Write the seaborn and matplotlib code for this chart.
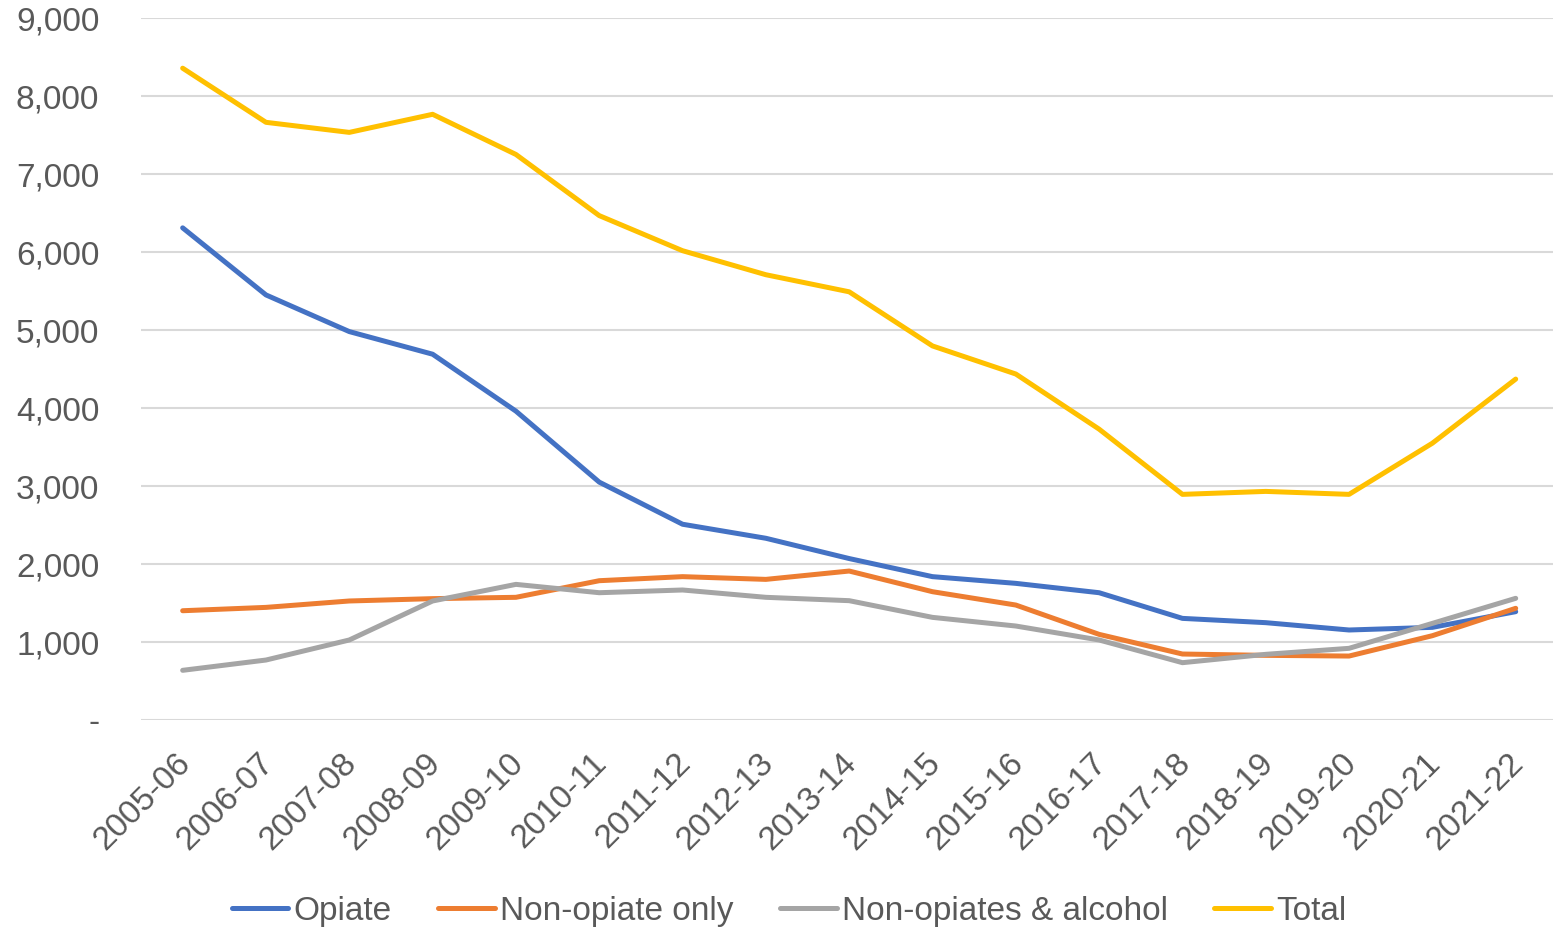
import matplotlib
matplotlib.use('Agg')
import matplotlib.pyplot as plt
import matplotlib.transforms as mtransforms
from matplotlib.ticker import FuncFormatter
import seaborn as sns
import pandas as pd

# ---------- DATA ----------
years = ['2005-06', '2006-07', '2007-08', '2008-09', '2009-10', '2010-11', '2011-12', '2012-13',
         '2013-14', '2014-15', '2015-16', '2016-17', '2017-18', '2018-19', '2019-20', '2020-21', '2021-22']
opiate = [6310, 5450, 4980, 4690, 3960, 3050, 2510, 2330, 2070, 1838, 1752, 1632, 1303, 1248, 1154, 1188, 1389]
non_opiate_only = [1401, 1444, 1526, 1556, 1573, 1786, 1838, 1803, 1910, 1645, 1474, 1098, 846, 829, 820, 1081, 1432]
non_opiates_alcohol = [637, 769, 1026, 1526, 1739, 1632, 1667, 1573, 1530, 1316, 1205, 1026, 735, 842, 919, 1239, 1560]
total = [8357, 7663, 7534, 7766, 7251, 6467, 6017, 5709, 5490, 4796, 4436, 3729, 2893, 2931, 2893, 3549, 4371]

series_names = ['Opiate', 'Non-opiate only', 'Non-opiates & alcohol', 'Total']
colours = ['#4472C4', '#ED7D31', '#A5A5A5', '#FFC000']

df = pd.DataFrame({'year': years, 'Opiate': opiate, 'Non-opiate only': non_opiate_only,
                   'Non-opiates & alcohol': non_opiates_alcohol, 'Total': total})
long_df = df.melt(id_vars='year', var_name='series', value_name='count')

# ---------- PLOT ----------
sns.set_style('white')
plt.rcParams['font.family'] = ['Liberation Sans', 'DejaVu Sans']

fig = plt.figure(figsize=(15.53, 9.30), dpi=100)
ax = fig.add_axes([0.0908, 0.2258, 0.912, 0.7548])

sns.lineplot(data=long_df, x='year', y='count', hue='series', hue_order=series_names,
             palette=colours, linewidth=3.6, sort=False, ax=ax, legend=False)

ax.set_ylim(0, 9000)
ax.set_xlim(-0.5, len(years) - 0.5)
ax.set_yticks(range(0, 9001, 1000))
ax.yaxis.set_major_formatter(FuncFormatter(lambda v, p: '-' if v == 0 else f'{int(v):,}'))
ax.grid(axis='y', color='#D9D9D9', linewidth=1.5)
ax.grid(axis='x', visible=False)
for s in ax.spines.values():
    s.set_visible(False)
ax.set_xlabel('')
ax.set_ylabel('')
ax.tick_params(axis='y', length=0, pad=30, labelsize=24, labelcolor='#595959')
ax.tick_params(axis='x', length=0, pad=20, labelsize=24, labelcolor='#595959')
shift = mtransforms.ScaledTranslation(-8 / 100, 0, fig.dpi_scale_trans)
for lbl in ax.get_xticklabels():
    lbl.set_rotation(45)
    lbl.set_ha('right')
    lbl.set_rotation_mode('anchor')
    lbl.set_transform(lbl.get_transform() + shift)

handles = [plt.Line2D([], [], color=c, linewidth=3.6) for c in colours]
fig.legend(handles, series_names, loc='center', bbox_to_anchor=(0.508, 0.02), ncol=4, frameon=False,
           fontsize=24, labelcolor='#595959', handlelength=1.7, handletextpad=0.15, columnspacing=1.4)

fig.savefig('out.png', dpi=100)
